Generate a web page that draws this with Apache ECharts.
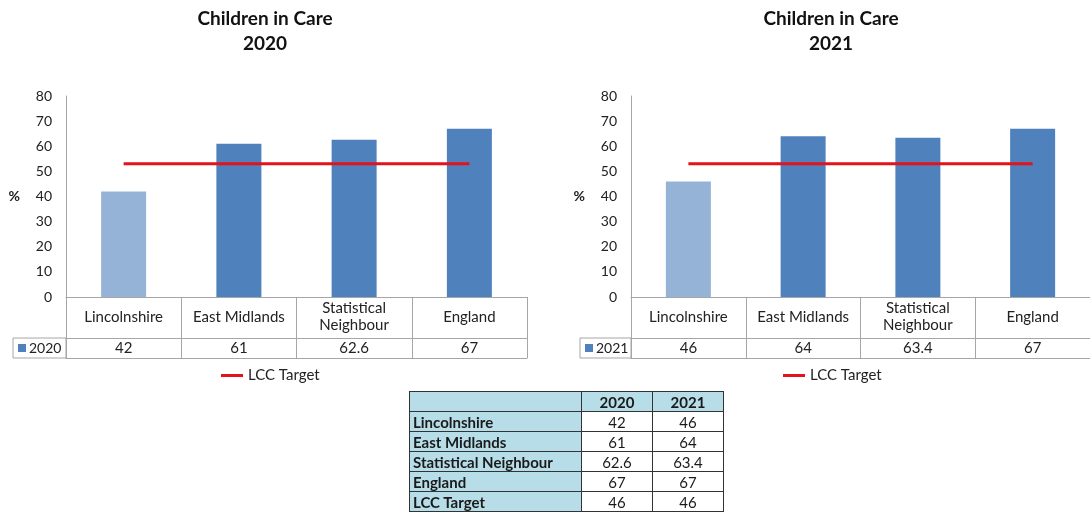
<!DOCTYPE html>
<html>
<head>
<meta charset="utf-8">
<script src="https://cdn.jsdelivr.net/npm/echarts@6/dist/echarts.min.js"></script>
<style>
  html, body { margin: 0; padding: 0; background: #fff; }
  #chart { position: absolute; left: 0; top: 0; width: 1090px; height: 514px; }
  #summary {
    position: absolute; left: 409px; top: 391px;
    border-collapse: collapse; font-family: Lato, 'Open Sans', sans-serif;
    font-size: 15px; color: #1a1a1a; line-height: 18px;
  }
  #summary td, #summary th { border: 1px solid #333; height: 19px; padding: 0 3px; }
  #summary th { background: #b7dde8; font-weight: bold; text-align: center; }
  #summary td.name { background: #b7dde8; font-weight: bold; text-align: left; width: 165px; }
  #summary td.num { text-align: center; width: 64px; background: #fff; }
</style>
</head>
<body>
<div id="chart"></div>
<table id="summary"></table>
<script>
// data
const categories = ['Lincolnshire', 'East Midlands', 'Statistical\nNeighbour', 'England']
const values2020 = [42, 61, 62.6, 67]
const values2021 = [46, 64, 63.4, 67]
// target line as drawn on the charts
const targetLine2020 = [53, 53, 53, 53]
const targetLine2021 = [53, 53, 53, 53]
const yTicks = { min: 0, max: 80, interval: 10 }

// summary table
const tableRows = ['Lincolnshire', 'East Midlands', 'Statistical Neighbour', 'England', 'LCC Target']
const table2020 = [42, 61, 62.6, 67, 46]
const table2021 = [46, 64, 63.4, 67, 46]
const tableYears = ['2020', '2021']

const FONT = 'Lato, "Open Sans", sans-serif'
const DARK = '#4f81bd'
const LIGHT = '#95b3d7'
const RED = '#e3121b'
const LINE = '#a6a6a6'

// build summary table
const tbl = document.getElementById('summary')
let html = '<tr><th></th>' + tableYears.map(y => `<th style="width:64px">${y}</th>`).join('') + '</tr>'
tableRows.forEach((name, i) => {
  html += `<tr><td class="name">${name}</td><td class="num">${table2020[i]}</td><td class="num">${table2021[i]}</td></tr>`
})
tbl.innerHTML = html

// layout of the two panels
const panels = [
  { year: '2020', values: values2020, target: targetLine2020, left: 66, width: 461, titleX: 265, legendX: 221, cellX: 13 },
  { year: '2021', values: values2021, target: targetLine2021, left: 631, width: 463, titleX: 831, legendX: 783, cellX: 580 }
]
const gridTop = 96
const gridHeight = 201
const catRow = 41
const valRow = 20

const option = {
  animation: false,
  textStyle: { fontFamily: FONT },
  title: [],
  legend: [],
  grid: [],
  xAxis: [],
  yAxis: [],
  series: [],
  graphic: []
}

panels.forEach((p, k) => {
  option.title.push({
    text: 'Children in Care\n' + p.year,
    left: p.titleX,
    top: 6,
    padding: 0,
    textAlign: 'center',
    textStyle: { fontSize: 19, fontWeight: 'bold', lineHeight: 25, color: '#111', fontFamily: FONT }
  })
  option.grid.push({ left: p.left, top: gridTop, width: p.width, height: gridHeight })
  option.yAxis.push({
    type: 'value',
    gridIndex: k,
    min: yTicks.min,
    max: yTicks.max,
    interval: yTicks.interval,
    name: '%',
    nameLocation: 'middle',
    nameRotate: 0,
    nameGap: 46,
    nameTextStyle: { fontSize: 14, color: '#222', fontWeight: 'bold' },
    axisLine: { show: true, lineStyle: { color: LINE } },
    axisTick: { show: false },
    splitLine: { show: false },
    axisLabel: { fontSize: 14, color: '#222', margin: 14 }
  })
  const base = k * 3
  // category row
  option.xAxis.push({
    type: 'category',
    gridIndex: k,
    data: categories,
    axisLine: { lineStyle: { color: LINE } },
    axisTick: { show: true, interval: 0, length: catRow + valRow, lineStyle: { color: LINE } },
    axisLabel: { interval: 0, fontSize: 15, color: '#222', margin: 20, verticalAlign: 'middle', lineHeight: 17 }
  })
  // value row
  option.xAxis.push({
    type: 'category',
    gridIndex: k,
    position: 'bottom',
    offset: catRow,
    data: categories,
    axisLine: { lineStyle: { color: LINE } },
    axisTick: { show: false },
    axisLabel: {
      interval: 0, fontSize: 15, color: '#222', margin: 10, verticalAlign: 'middle',
      formatter: (v, i) => String(p.values[i])
    }
  })
  // table bottom border
  option.xAxis.push({
    type: 'category',
    gridIndex: k,
    position: 'bottom',
    offset: catRow + valRow,
    data: categories,
    axisLine: { lineStyle: { color: LINE } },
    axisTick: { show: false },
    axisLabel: { show: false }
  })
  option.series.push({
    name: p.year,
    type: 'bar',
    xAxisIndex: base,
    yAxisIndex: k,
    barWidth: 45,
    data: p.values.map((v, i) => ({ value: v, itemStyle: { color: i === 0 ? LIGHT : DARK } }))
  })
  option.series.push({
    name: 'LCC Target',
    type: 'line',
    xAxisIndex: base,
    yAxisIndex: k,
    symbol: 'none',
    lineStyle: { color: RED, width: 3 },
    itemStyle: { color: RED },
    data: p.target
  })
  option.legend.push({
    data: ['LCC Target'],
    left: p.legendX,
    top: 368,
    padding: 0,
    icon: 'rect',
    itemWidth: 22,
    itemHeight: 3,
    itemGap: 10,
    textStyle: { fontSize: 15, color: '#222', fontFamily: FONT }
  })
  // series key cell left of the value row
  const cellTop = gridTop + gridHeight + catRow
  option.graphic.push({
    type: 'rect',
    shape: { x: p.cellX, y: cellTop, width: p.left - p.cellX, height: valRow },
    style: { fill: 'none', stroke: LINE, lineWidth: 1 }
  })
  option.graphic.push({
    type: 'rect',
    shape: { x: p.cellX + 5, y: cellTop + 6, width: 8, height: 8 },
    style: { fill: DARK }
  })
  option.graphic.push({
    type: 'text',
    x: p.cellX + 16,
    y: cellTop + valRow / 2,
    style: { text: p.year, fontSize: 14, fill: '#222', fontFamily: FONT, verticalAlign: 'middle' }
  })
})

const chart = echarts.init(document.getElementById('chart'))
chart.setOption(option)
window.addEventListener('resize', () => chart.resize())
</script>
</body>
</html>
